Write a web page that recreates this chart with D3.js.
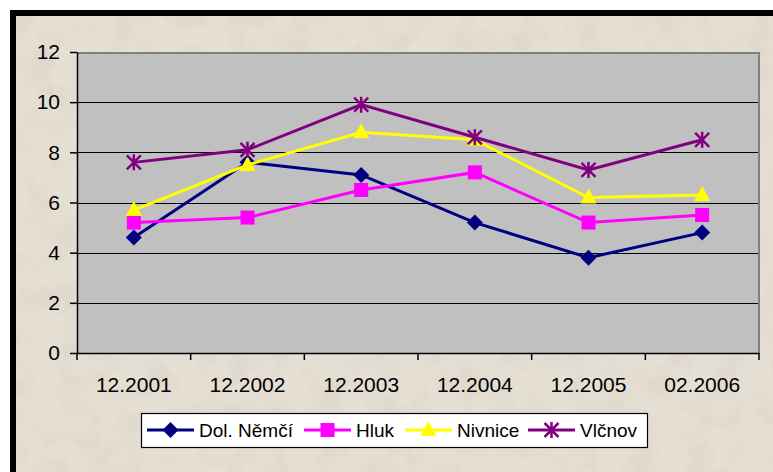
<!DOCTYPE html>
<html>
<head>
<meta charset="utf-8">
<script src="https://cdn.jsdelivr.net/npm/d3@7"></script>
<style>
  body { margin: 0; background: #fff; }
  svg text { font-family: "Liberation Sans", Arial, sans-serif; fill: #000; }
</style>
</head>
<body>
<div id="chart"></div>
<script>
var categories = ["12.2001", "12.2002", "12.2003", "12.2004", "12.2005", "02.2006"];
var seriesNames = ["Dol. Němčí", "Hluk", "Nivnice", "Vlčnov"];
var dolNemci = [4.6, 7.6, 7.1, 5.2, 3.8, 4.8];
var hluk = [5.2, 5.4, 6.5, 7.2, 5.2, 5.5];
var nivnice = [5.7, 7.5, 8.8, 8.5, 6.2, 6.3];
var vlcnov = [7.6, 8.1, 9.9, 8.6, 7.3, 8.5];
var yTicks = [0, 2, 4, 6, 8, 10, 12];

var W = 773, H = 472;
var plotLeft = 77, plotRight = 759, plotTop = 52, plotBottom = 353;

var svg = d3.select("#chart").append("svg")
    .attr("width", W)
    .attr("height", H);

// parchment background with a little noise
var defs = svg.append("defs");
var filt = defs.append("filter").attr("id", "paper")
    .attr("x", 0).attr("y", 0).attr("width", "100%").attr("height", "100%");
filt.append("feTurbulence")
    .attr("type", "fractalNoise")
    .attr("baseFrequency", "0.035")
    .attr("numOctaves", 3)
    .attr("seed", 4)
    .attr("result", "noise");
filt.append("feColorMatrix")
    .attr("in", "noise")
    .attr("type", "matrix")
    .attr("values", "0 0 0 0 0.45  0 0 0 0 0.40  0 0 0 0 0.33  0 0 0 -0.9 0.55")
    .attr("result", "tint");
filt.append("feComposite").attr("in", "tint").attr("in2", "SourceGraphic").attr("operator", "in");

svg.append("rect").attr("x", 10).attr("y", 10).attr("width", W - 10).attr("height", H - 10)
    .attr("fill", "#000");
svg.append("rect").attr("x", 16).attr("y", 16).attr("width", W - 16).attr("height", H - 16)
    .attr("fill", "#e6dfd3");
svg.append("rect").attr("x", 16).attr("y", 16).attr("width", W - 16).attr("height", H - 16)
    .attr("fill", "#e6dfd3")
    .attr("filter", "url(#paper)")
    .attr("opacity", 0.35);

var x = d3.scaleBand().domain(categories).range([plotLeft, plotRight]);
var y = d3.scaleLinear().domain([0, 12]).range([plotBottom, plotTop]);

// plot area
svg.append("rect")
    .attr("x", plotLeft).attr("y", plotTop)
    .attr("width", plotRight - plotLeft).attr("height", plotBottom - plotTop)
    .attr("fill", "#c0c0c0");

svg.append("g").selectAll("line")
    .data(yTicks.filter(function (d) { return d > 0 && d < 12; }))
    .join("line")
    .attr("x1", plotLeft).attr("x2", plotRight)
    .attr("y1", function (d) { return Math.round(y(d)) + 0.5; })
    .attr("y2", function (d) { return Math.round(y(d)) + 0.5; })
    .attr("stroke", "#000")
    .attr("stroke-width", 1.2);

// grey border top and right
svg.append("path")
    .attr("d", "M" + plotLeft + "," + (plotTop + 1) + "H" + plotRight + "V" + plotBottom)
    .attr("fill", "none")
    .attr("stroke", "#808080")
    .attr("stroke-width", 2);

// axes
var yAxis = d3.axisLeft(y).tickValues(yTicks).tickSize(7).tickPadding(10).tickSizeOuter(0);
var gy = svg.append("g").attr("transform", "translate(" + plotLeft + ",0)").call(yAxis);
gy.select(".domain").attr("stroke", "#000").attr("stroke-width", 1.5);
gy.selectAll(".tick line").attr("stroke", "#000").attr("stroke-width", 1.5);
gy.selectAll("text").style("font-size", "21px").style("font-family", "Liberation Sans, Arial, sans-serif");

var xAxis = d3.axisBottom(x).tickSize(0).tickPadding(24);
var gx = svg.append("g").attr("transform", "translate(0," + plotBottom + ")").call(xAxis);
gx.select(".domain").attr("stroke", "#000").attr("stroke-width", 1.5);
gx.selectAll("text").style("font-size", "21px").style("font-family", "Liberation Sans, Arial, sans-serif");
// category boundary ticks
gx.append("g").selectAll("line")
    .data(categories.map(function (c) { return x(c); }).concat([plotRight]))
    .join("line")
    .attr("x1", function (d) { return d; }).attr("x2", function (d) { return d; })
    .attr("y1", 0).attr("y2", 7)
    .attr("stroke", "#000").attr("stroke-width", 1.5);

var series = [
    { name: seriesNames[0], values: dolNemci, color: "#000080", marker: "diamond" },
    { name: seriesNames[1], values: hluk, color: "#ff00ff", marker: "square" },
    { name: seriesNames[2], values: nivnice, color: "#ffff00", marker: "triangle" },
    { name: seriesNames[3], values: vlcnov, color: "#800080", marker: "star" }
];

function drawMarker(g, type, color) {
    if (type == "diamond") {
        g.append("path").attr("d", "M0,-8L8,0L0,8L-8,0Z").attr("fill", color);
    } else if (type == "square") {
        g.append("rect").attr("x", -7).attr("y", -7).attr("width", 14).attr("height", 14).attr("fill", color);
    } else if (type == "triangle") {
        g.append("path").attr("d", "M0,-9L8,6L-8,6Z").attr("fill", color);
    } else {
        g.append("path").attr("d", "M0,-8V8M-7,-7L7,7M-7,7L7,-7")
            .attr("stroke", color).attr("stroke-width", 2.5).attr("fill", "none");
    }
}

var line = d3.line()
    .x(function (d, i) { return x(categories[i]) + x.bandwidth() / 2; })
    .y(function (d) { return y(d); });

series.forEach(function (s) {
    svg.append("path")
        .datum(s.values)
        .attr("d", line)
        .attr("fill", "none")
        .attr("stroke", s.color)
        .attr("stroke-width", 3);
    s.values.forEach(function (v, i) {
        var g = svg.append("g")
            .attr("transform", "translate(" + (x(categories[i]) + x.bandwidth() / 2) + "," + y(v) + ")");
        drawMarker(g, s.marker, s.color);
    });
});

// legend
var legend = svg.append("g");
legend.append("rect")
    .attr("x", 141.5).attr("y", 413.5).attr("width", 506).attr("height", 34)
    .attr("fill", "#fff").attr("stroke", "#000").attr("stroke-width", 1.2);

var legendX = [147, 304, 405, 528];
series.forEach(function (s, i) {
    var lg = legend.append("g").attr("transform", "translate(" + legendX[i] + ",430)");
    lg.append("line").attr("x1", 0).attr("x2", 47).attr("y1", 0).attr("y2", 0)
        .attr("stroke", s.color).attr("stroke-width", 3);
    drawMarker(lg.append("g").attr("transform", "translate(23.5,0)"), s.marker, s.color);
    lg.append("text").attr("x", 52).attr("y", 7).style("font-size", "19px").text(s.name);
});
</script>
</body>
</html>
